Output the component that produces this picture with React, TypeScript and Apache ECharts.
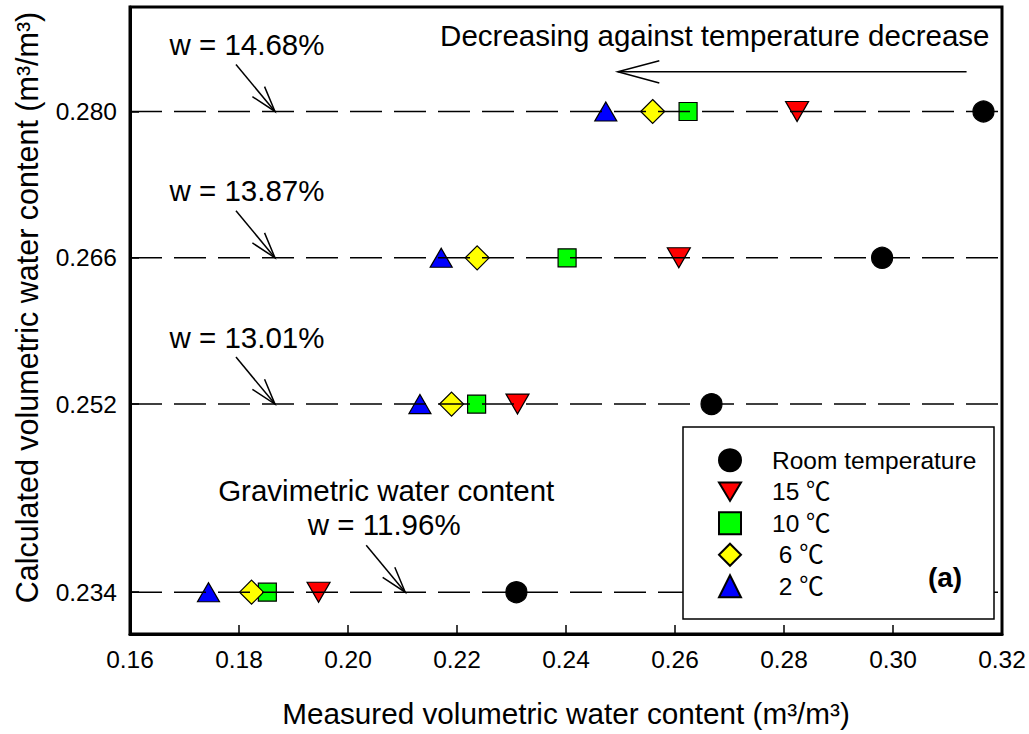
import React, { useEffect, useRef } from "react";
import * as echarts from "echarts";

// Calculated volumetric water content for each gravimetric water content level (m3/m3)
const levels = [0.234, 0.252, 0.266, 0.28];

// Measured volumetric water content (m3/m3), one value per level, by temperature
const roomTemp = [0.2309, 0.2667, 0.298, 0.3166];
const temp15 = [0.1946, 0.2311, 0.2607, 0.2824];
const temp10 = [0.1852, 0.2236, 0.2402, 0.2624];
const temp6 = [0.1823, 0.219, 0.2237, 0.2559];
const temp2 = [0.1744, 0.2132, 0.2171, 0.2473];

const seriesNames = ["Room temperature", "15 \u2103", "10 \u2103", "\u00a06 \u2103", "\u00a02 \u2103"];

// Gravimetric water content labels, with the x position where each arrow meets its level
const gravLabels = ["w = 11.96%", "w = 13.01%", "w = 13.87%", "w = 14.68%"];
const arrowTipX = [0.2105, 0.1866, 0.1866, 0.1866];

// Axis ranges
const xMin = 0.16;
const xMax = 0.32;
const xStep = 0.02;
const yMin = 0.23;
const yMax = 0.29;

// Trend arrow ("Decreasing against temperature decrease"), in data units
const trendY = 0.2838;
const trendFromX = 0.3135;
const trendToX = 0.2495;

const FONT = "'Liberation Sans', Arial, 'Noto Sans CJK SC', sans-serif";
const NOTE_SIZE = 29.5;

const markerDefs = [
  { name: seriesNames[0], values: roomTemp, symbol: "circle", size: 21, color: "#000000" },
  { name: seriesNames[1], values: temp15, symbol: "path://M0,0L24,0L12,20Z", size: [23, 20], color: "#ff0000" },
  { name: seriesNames[2], values: temp10, symbol: "rect", size: 18, color: "#00ff00" },
  { name: seriesNames[3], values: temp6, symbol: "diamond", size: 24, color: "#ffff00" },
  { name: seriesNames[4], values: temp2, symbol: "triangle", size: [22, 19], color: "#0000ff" },
];

function arrowElements(tip: number[], tail: number[], halfAngleDeg: number, headLen: number) {
  const ang = Math.atan2(tail[1] - tip[1], tail[0] - tip[0]);
  const h = (halfAngleDeg * Math.PI) / 180;
  const w1 = [tip[0] + headLen * Math.cos(ang + h), tip[1] + headLen * Math.sin(ang + h)];
  const w2 = [tip[0] + headLen * Math.cos(ang - h), tip[1] + headLen * Math.sin(ang - h)];
  const style = { stroke: "#000", lineWidth: 1.5, fill: null };
  return [
    { type: "line", z: 5, shape: { x1: tail[0], y1: tail[1], x2: tip[0], y2: tip[1] }, style },
    { type: "polyline", z: 5, shape: { points: [w1, tip, w2] }, style },
  ];
}

function textEl(text: string, x: number, y: number, size: number, extra: any = {}) {
  return {
    type: "text",
    z: 21,
    x,
    y,
    style: {
      text,
      fontSize: size,
      fontFamily: FONT,
      fill: "#000",
      align: "center",
      verticalAlign: "middle",
      ...extra,
    },
  };
}

export default function App() {
  const ref = useRef<HTMLDivElement>(null);

  useEffect(() => {
    if (!ref.current) return;
    const chart = echarts.init(ref.current, null, { renderer: "svg" });

    const scatterSeries = markerDefs.map((m) => ({
      type: "scatter",
      name: m.name,
      data: m.values.map((x, i) => [x, levels[i]]),
      symbol: m.symbol,
      symbolSize: m.size,
      itemStyle: { color: m.color, borderColor: "#000", borderWidth: 1.2, opacity: 1 },
      z: 2,
      silent: true,
    }));

    const levelLines = levels.map((v, i) => ({
      type: "line",
      name: "level" + i,
      data: [
        [xMin, v],
        [xMax, v],
      ],
      symbol: "none",
      lineStyle: { color: "#000", width: 1.5, type: [32, 12] },
      z: 3,
      silent: true,
    }));

    chart.setOption({
      animation: false,
      backgroundColor: "#ffffff",
      grid: {
        left: 130,
        right: 27,
        top: 7,
        bottom: 100,
        show: true,
        borderColor: "#000",
        borderWidth: 3,
        outerBoundsMode: "none",
      },
      xAxis: {
        type: "value",
        min: xMin,
        max: xMax,
        interval: xStep,
        name: "Measured volumetric water content (m\u00b3/m\u00b3)",
        nameLocation: "middle",
        nameGap: 65,
        nameTextStyle: { fontSize: 29.7, fontFamily: FONT, color: "#000" },
        axisLine: { show: true, lineStyle: { color: "#000", width: 3 } },
        axisTick: { show: true, inside: true, length: 9, lineStyle: { color: "#000", width: 1.5 } },
        axisLabel: {
          fontSize: 24.5,
          fontFamily: FONT,
          color: "#000",
          margin: 13,
          formatter: (v: number) => v.toFixed(2),
        },
        splitLine: { show: false },
      },
      yAxis: {
        type: "value",
        min: yMin,
        max: yMax,
        name: "Calculated volumetric water content (m\u00b3/m\u00b3)",
        nameLocation: "middle",
        nameRotate: 90,
        nameGap: 88,
        nameTextStyle: { fontSize: 30.5, fontFamily: FONT, color: "#000", padding: [0, 0, 0, 26] },
        axisLine: { show: true, lineStyle: { color: "#000", width: 3 } },
        axisTick: {
          show: true,
          inside: true,
          length: 9,
          customValues: levels,
          lineStyle: { color: "#000", width: 1.5 },
        },
        axisLabel: {
          fontSize: 24.5,
          fontFamily: FONT,
          color: "#000",
          margin: 13,
          customValues: levels,
          formatter: (v: number) => v.toFixed(3),
        },
        splitLine: { show: false },
      },
      legend: {
        data: seriesNames,
        orient: "vertical",
        left: 718,
        top: 448,
        itemWidth: 22,
        itemHeight: 22,
        itemGap: 7,
        padding: 0,
        selectedMode: false,
        z: 20,
        textStyle: { fontSize: 24.5, fontFamily: FONT, color: "#000", padding: [0, 0, 0, 26] },
      },
      series: [...scatterSeries, ...levelLines],
    });

    const px = (x: number, y: number) => chart.convertToPixel({ gridIndex: 0 }, [x, y]) as number[];

    const graphics: any[] = [
      // legend frame
      {
        type: "rect",
        z: 10,
        shape: { x: 683, y: 427, width: 311, height: 192 },
        style: { fill: "#fff", stroke: "#000", lineWidth: 1.5 },
      },
      textEl("(a)", 945, 577, 28, { fontWeight: "bold" }),
    ];

    levels.forEach((v, i) => {
      const tip = px(arrowTipX[i], v);
      const tail = [tip[0] - 39, tip[1] - 47];
      graphics.push(...arrowElements(tip, tail, 17, 27));
      if (i === 0) {
        graphics.push(textEl("Gravimetric water content", tip[0] - 19, tip[1] - 102, NOTE_SIZE));
        graphics.push(textEl(gravLabels[i], tip[0] - 21, tip[1] - 68, NOTE_SIZE));
      } else {
        graphics.push(textEl(gravLabels[i], tip[0] - 28, tip[1] - 67, NOTE_SIZE));
      }
    });

    const trendTip = px(trendToX, trendY);
    const trendTail = px(trendFromX, trendY);
    graphics.push(...arrowElements(trendTip, trendTail, 15, 43));
    graphics.push(textEl("Decreasing against temperature decrease", trendTip[0] + 97, trendTip[1] - 36, NOTE_SIZE));

    chart.setOption({ graphic: graphics });

    return () => chart.dispose();
  }, []);

  return (
    <div
      ref={ref}
      style={{ position: "fixed", left: 0, top: 0, width: 1029, height: 734, background: "#fff" }}
    />
  );
}
